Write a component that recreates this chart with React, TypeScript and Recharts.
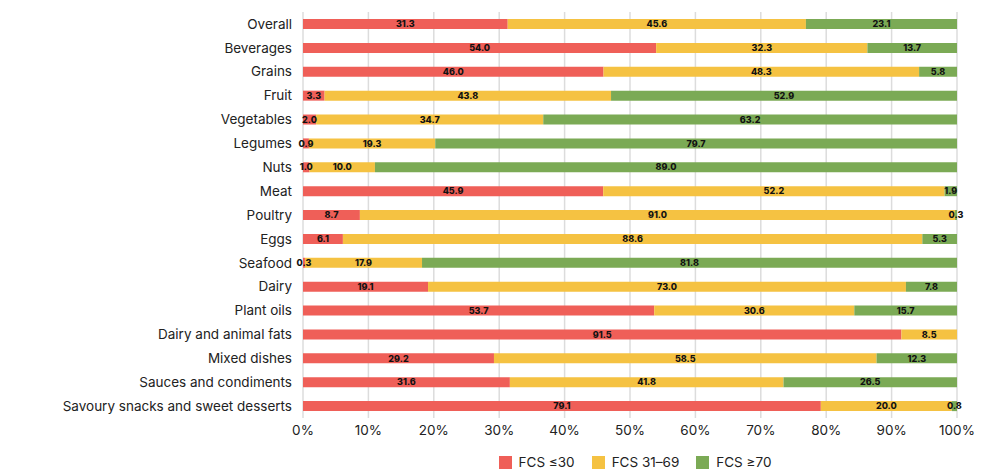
import { BarChart, Bar, XAxis, YAxis, CartesianGrid, Legend, LabelList } from "recharts";

const categories = [
  "Overall", "Beverages", "Grains", "Fruit", "Vegetables", "Legumes", "Nuts", "Meat",
  "Poultry", "Eggs", "Seafood", "Dairy", "Plant oils", "Dairy and animal fats",
  "Mixed dishes", "Sauces and condiments", "Savoury snacks and sweet desserts",
];
const low = [31.3, 54.0, 46.0, 3.3, 2.0, 0.9, 1.0, 45.9, 8.7, 6.1, 0.3, 19.1, 53.7, 91.5, 29.2, 31.6, 79.1];
const mid = [45.6, 32.3, 48.3, 43.8, 34.7, 19.3, 10.0, 52.2, 91.0, 88.6, 17.9, 73.0, 30.6, 8.5, 58.5, 41.8, 20.0];
const high = [23.1, 13.7, 5.8, 52.9, 63.2, 79.7, 89.0, 1.9, 0.3, 5.3, 81.8, 7.8, 15.7, 0, 12.3, 26.5, 0.8];
const xTicks = [0, 0.1, 0.2, 0.3, 0.4, 0.5, 0.6, 0.7, 0.8, 0.9, 1];
const seriesNames = ["FCS \u226430", "FCS 31\u201369", "FCS \u226570"];
const seriesColors = ["#EF5F58", "#F5C242", "#7BAA55"];

const data = categories.map((name, i) => ({ name, low: low[i], mid: mid[i], high: high[i] }));

const font = "Inter, 'Noto Sans', sans-serif";
const fmt = (v: any) => (v == null || Number(v) === 0 ? "" : Number(v).toFixed(1));
const labelStyle = { fontSize: 9, fontWeight: 800, fill: "#111", fontFamily: font };

function LegendBox() {
  return (
    <div
      style={{
        height: 34,
        boxSizing: "border-box",
        paddingTop: 13,
        paddingLeft: 10,
        display: "flex",
        justifyContent: "center",
        gap: 17,
        fontFamily: font,
        fontSize: 13.5,
        color: "#222",
      }}
    >
      {seriesNames.map((n, i) => (
        <div key={n} style={{ display: "flex", alignItems: "center", height: 14 }}>
          <span style={{ width: 13, height: 13, background: seriesColors[i], marginRight: 7, display: "inline-block" }} />
          <span>{n}</span>
        </div>
      ))}
    </div>
  );
}

export default function App() {
  return (
    <div style={{ position: "absolute", left: 0, top: 0, background: "#fff" }}>
      <BarChart
        width={1000}
        height={476}
        data={data}
        layout="vertical"
        stackOffset="expand"
        margin={{ top: 12, right: 43, bottom: 0, left: 0 }}
        barCategoryGap={0}
      >
        <CartesianGrid horizontal={false} stroke="#dcdcdc" strokeWidth={1.5} />
        <XAxis
          type="number"
          domain={[0, 1]}
          ticks={xTicks}
          tickFormatter={(v: number) => `${Math.round(v * 100)}%`}
          axisLine={false}
          tickLine={false}
          tickSize={0}
          tickMargin={7}
          height={24}
          tick={{ fontSize: 13.5, fill: "#222", fontFamily: font }}
        />
        <YAxis
          type="category"
          dataKey="name"
          width={303}
          axisLine={false}
          tickLine={false}
          tickSize={0}
          tickMargin={11}
          interval={0}
          tick={{ fontSize: 13.5, fill: "#222", fontFamily: font }}
        />
        <Legend
          verticalAlign="bottom"
          height={34}
          content={<LegendBox />}
          wrapperStyle={{ left: 303, width: 654 }}
        />
        <Bar dataKey="low" name={seriesNames[0]} stackId="a" fill={seriesColors[0]} barSize={10} isAnimationActive={false}>
          <LabelList dataKey="low" position="center" formatter={fmt} style={labelStyle} />
        </Bar>
        <Bar dataKey="mid" name={seriesNames[1]} stackId="a" fill={seriesColors[1]} barSize={10} isAnimationActive={false}>
          <LabelList dataKey="mid" position="center" formatter={fmt} style={labelStyle} />
        </Bar>
        <Bar dataKey="high" name={seriesNames[2]} stackId="a" fill={seriesColors[2]} barSize={10} isAnimationActive={false}>
          <LabelList dataKey="high" position="center" formatter={fmt} style={labelStyle} />
        </Bar>
      </BarChart>
    </div>
  );
}
